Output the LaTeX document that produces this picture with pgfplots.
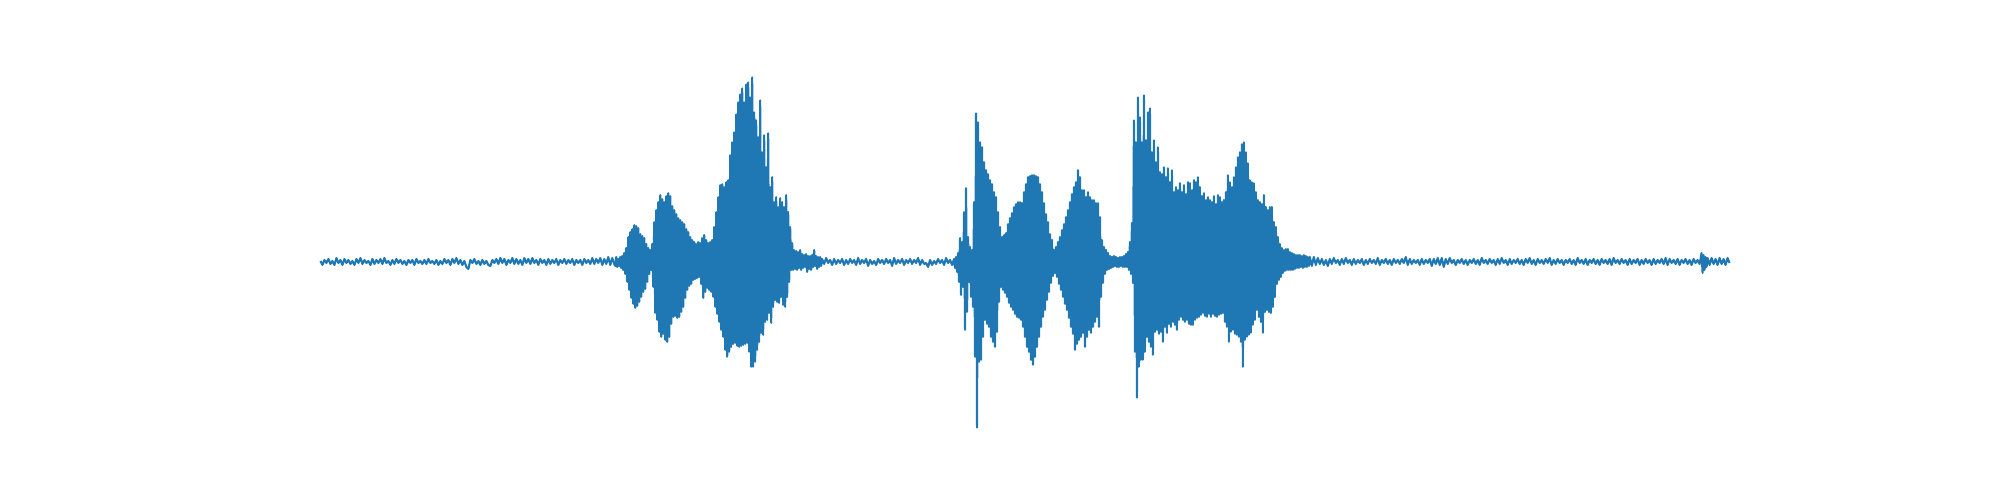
\documentclass[border=0pt]{standalone}
\usepackage{pgfplots}
\pgfplotsset{compat=1.18}
\definecolor{tabblue}{RGB}{31,119,180}
\begin{document}
\begin{tikzpicture}
\path[use as bounding box] (0,0) rectangle (1000pt,250pt);
\begin{axis}[at={(125pt,27.5pt)}, anchor=south west, scale only axis,
  width=775pt, height=192.5pt,
  xmin=249.5, xmax=1800.5, ymin=-183.5, ymax=202.5, hide axis]
\addplot[color=tabblue, line width=1.04pt, mark=none, line join=round] coordinates {
(320,1)(322,-3)(324,2)(326,-1)(328,3)(330,-2)(332,1)(334,-3)(336,4)(338,-1)(340,2)(342,-3)(344,3)(346,-1)(348,2)(350,-2)(352,1)(354,-3)(356,3)(358,-1)(360,4)(362,-2)(364,2)(366,-1)(368,1)(370,-3)(372,3)(374,-2)(376,2)(378,-1)(380,3)(382,-2)(384,4)(386,-1)(388,1)(390,-3)(392,2)(394,-2)(396,3)(398,-1)(400,2)(402,-2)(404,1)(406,-3)(408,2)(410,-1)(412,2)(414,-3)(416,3)(418,-1)(420,1)(422,-2)(424,2)(426,-2)(428,3)(430,-1)(432,1)(434,-2)(436,2)(438,-3)(440,1)(442,-2)(444,3)(446,-1)(448,2)(450,-3)(452,3)(454,-1)(456,4)(458,-2)(460,2)(462,-3)(464,1)(466,-5)(468,-7)(470,2)(472,-1)(474,3)(476,-2)(478,1)(480,-3)(482,2)(484,-2)(486,1)(488,-3)(490,-4)(492,2)(494,-1)(496,3)(498,-2)(500,4)(502,-1)(504,3)(506,-3)(508,2)(510,-1)(512,4)(514,-2)(516,3)(518,-2)(520,2)(522,-3)(524,4)(526,-1)(528,3)(530,-2)(532,4)(534,-1)(536,2)(538,-3)(540,3)(542,-1)(544,2)(546,-3)(548,3)(550,-2)(552,2)(554,-1)(556,3)(558,-3)(560,2)(562,-1)(564,3)(566,-2)(568,2)(570,-1)(572,3)(574,-3)(576,2)(578,-1)(580,2)(582,-3)(584,3)(586,-1)(588,2)(590,-2)(592,4)(594,-2)(596,3)(598,-1)(600,4)(602,-3)(604,3)(606,-2)(608,5)(610,-3)(612,4)(614,-2)
(615,-4)(616,5)(617,-5)(618,3)(619,-4)(620,5)(621,-6)(622,6)(623,-8)(624,9)(625,-12)(626,14)(627,-20)(628,25)(629,-28)(630,30)(631,-36)(632,33)(633,-42)(634,37)(635,-46)(636,36)(637,-44)(638,34)(639,-40)(640,28)(641,-35)(642,26)(643,-30)(644,24)(645,-27)(646,18)(647,-20)(648,14)(649,-12)(650,12)(651,-8)(652,18)(653,-25)(654,40)(655,-51)(656,52)(657,-58)(658,60)(659,-70)(660,67)(661,-75)(662,63)(663,-72)(664,60)(665,-78)(666,66)(667,-80)(668,69)(669,-75)(670,66)(671,-62)(672,56)(673,-55)(674,52)(675,-54)(676,48)(677,-56)(678,44)(679,-55)(680,42)(681,-50)(682,40)(683,-45)(684,38)(685,-36)(686,33)(687,-28)(688,30)(689,-24)(690,25)(691,-22)(692,22)(693,-18)(694,20)(695,-17)(696,18)(697,-16)(698,20)(699,-15)(700,19)(701,-22)(702,24)(703,-36)(704,27)(705,-30)(706,22)(707,-26)(708,19)(709,-28)(710,20)(711,-30)(712,22)(713,-35)(714,35)(715,-45)(716,50)(717,-52)(718,65)(719,-60)(720,77)(721,-68)(722,78)(723,-75)(724,75)(725,-88)(726,80)(727,-95)(728,82)(729,-90)(730,107)(731,-85)(732,120)(733,-82)(734,130)(735,-81)(736,148)(737,-84)(738,160)(739,-85)(740,168)(741,-84)(742,174)(743,-83)(744,160)(745,-82)(746,178)(747,-81)(748,180)(749,-90)(750,165)(751,-105)(752,185)(753,-105)(754,150)(755,-100)(756,142)(757,-88)(758,125)(759,-80)(760,162)(761,-71)(762,110)(763,-73)(764,127)(765,-60)(766,95)(767,-58)(768,129)(769,-51)(770,75)(771,-61)(772,85)(773,-45)(774,60)(775,-38)(776,65)(777,-40)(778,55)(779,-41)(780,64)(781,-35)(782,60)(783,-43)(784,55)(785,-45)(786,67)(787,-35)(788,50)(789,-20)(790,35)(791,-8)(792,19)(793,-8)(794,12)(795,-7)(796,11)(797,-8)(798,10)(799,-6)(800,12)(801,-8)(802,8)(803,-6)(804,7)(805,-5)(806,8)(807,-10)(808,6)(809,-7)(810,6)(811,-8)(812,7)(813,-5)(814,12)(815,-4)(816,6)(817,-7)(818,5)(819,-5)(820,5)(821,-4)
(822,3)(824,-2)(826,4)(828,-1)(830,2)(832,-3)(834,3)(836,-2)(838,2)(840,-1)(842,3)(844,-3)(846,2)(848,-2)(850,3)(852,-1)(854,2)(856,-3)(858,4)(860,-2)(862,2)(864,-1)(866,3)(868,-4)(870,2)(872,-2)(874,1)(876,-3)(878,3)(880,-1)(882,2)(884,-2)(886,3)(888,-1)(890,2)(892,-4)(894,4)(896,-2)(898,2)(900,-1)(902,3)(904,-3)(906,2)(908,-1)(910,3)(912,-2)(914,2)(916,-1)(918,4)(920,-3)(922,2)(924,-2)(926,-1)(928,-5)(930,2)(932,-3)(934,1)(936,-2)(938,3)(940,-1)(942,2)(944,-3)(946,4)(948,-1)(950,2)(952,-3)(954,3)
(955,-6)(956,5)(957,-10)(958,9)(959,-20)(960,24)(961,-33)(962,20)(963,-25)(964,50)(965,-68)(966,74)(967,-50)(968,25)(969,-20)(970,15)(971,-35)(972,12)(973,-45)(974,60)(975,-95)(976,149)(977,-166)(978,140)(979,-100)(980,120)(981,-98)(982,115)(983,-75)(984,100)(985,-58)(986,92)(987,-62)(988,88)(989,-65)(990,82)(991,-75)(992,78)(993,-80)(994,70)(995,-85)(996,65)(997,-70)(998,50)(999,-40)(1000,35)(1001,-25)(1002,25)(1003,-28)(1004,27)(1005,-31)(1006,29)(1007,-35)(1008,38)(1009,-41)(1010,44)(1011,-45)(1012,49)(1013,-48)(1014,55)(1015,-52)(1016,58)(1017,-55)(1018,60)(1019,-56)(1020,60)(1021,-58)(1022,59)(1023,-65)(1024,70)(1025,-75)(1026,78)(1027,-85)(1028,85)(1029,-90)(1030,86)(1031,-98)(1032,87)(1033,-103)(1034,87)(1035,-95)(1036,86)(1037,-85)(1038,85)(1039,-75)(1040,78)(1041,-65)(1042,70)(1043,-55)(1044,59)(1045,-48)(1046,48)(1047,-38)(1048,40)(1049,-30)(1050,28)(1051,-21)(1052,22)(1053,-14)(1054,12)(1055,-11)(1056,15)(1057,-15)(1058,20)(1059,-22)(1060,25)(1061,-28)(1062,32)(1063,-35)(1064,38)(1065,-42)(1066,45)(1067,-48)(1068,52)(1069,-56)(1070,60)(1071,-65)(1072,68)(1073,-72)(1074,75)(1075,-88)(1076,80)(1077,-82)(1078,92)(1079,-78)(1080,85)(1081,-75)(1082,72)(1083,-71)(1084,72)(1085,-85)(1086,65)(1087,-75)(1088,70)(1089,-68)(1090,65)(1091,-71)(1092,62)(1093,-65)(1094,62)(1095,-60)(1096,59)(1097,-55)(1098,59)(1099,-65)(1100,45)(1101,-35)(1102,22)(1103,-21)(1104,15)(1105,-12)(1106,12)(1107,-8)(1108,9)(1109,-7)(1110,6)(1111,-6)(1112,5)(1113,-5)(1114,6)(1115,-4)(1116,5)(1117,-5)(1118,4)(1119,-5)(1120,5)(1121,-4)(1122,5)(1123,-5)(1124,6)(1125,-5)(1126,8)(1127,-5)(1128,10)(1129,-8)(1130,20)(1131,-12)(1132,39)(1133,-21)(1134,142)(1135,-90)(1136,120)(1137,-136)(1138,165)(1139,-105)(1140,145)(1141,-98)(1142,120)(1143,-98)(1144,167)(1145,-90)(1146,122)(1147,-75)(1148,150)(1149,-80)(1150,154)(1151,-85)(1152,110)(1153,-93)(1154,122)(1155,-70)(1156,100)(1157,-68)(1158,115)(1159,-72)(1160,90)(1161,-70)(1162,88)(1163,-80)(1164,95)(1165,-65)(1166,85)(1167,-71)(1168,94)(1169,-62)(1170,80)(1171,-65)(1172,92)(1173,-60)(1174,70)(1175,-63)(1176,75)(1177,-68)(1178,72)(1179,-58)(1180,79)(1181,-55)(1182,70)(1183,-58)(1184,77)(1185,-60)(1186,68)(1187,-58)(1188,80)(1189,-62)(1190,79)(1191,-63)(1192,72)(1193,-63)(1194,82)(1195,-58)(1196,80)(1197,-56)(1198,85)(1199,-55)(1200,75)(1201,-53)(1202,66)(1203,-51)(1204,69)(1205,-54)(1206,62)(1207,-55)(1208,65)(1209,-52)(1210,62)(1211,-55)(1212,60)(1213,-52)(1214,66)(1215,-54)(1216,58)(1217,-55)(1218,67)(1219,-53)(1220,65)(1221,-52)(1222,60)(1223,-51)(1224,62)(1225,-60)(1226,70)(1227,-65)(1228,87)(1229,-80)(1230,80)(1231,-70)(1232,75)(1233,-68)(1234,85)(1235,-72)(1236,95)(1237,-73)(1238,105)(1239,-75)(1240,110)(1241,-80)(1242,118)(1243,-105)(1244,120)(1245,-78)(1246,110)(1247,-75)(1248,99)(1249,-73)(1250,82)(1251,-71)(1252,80)(1253,-63)(1254,79)(1255,-58)(1256,70)(1257,-48)(1258,62)(1259,-55)(1260,60)(1261,-60)(1262,58)(1263,-71)(1264,67)(1265,-50)(1266,55)(1267,-48)(1268,52)(1269,-50)(1270,55)(1271,-51)(1272,55)(1273,-45)(1274,40)(1275,-35)(1276,35)(1277,-22)(1278,25)(1279,-18)(1280,18)(1281,-15)(1282,14)(1283,-11)(1284,12)(1285,-9)(1286,13)(1287,-8)(1288,13)(1289,-8)(1290,10)(1291,-8)(1292,9)(1293,-8)(1294,8)(1295,-7)(1296,7)(1297,-6)(1298,7)(1299,-6)(1300,7)(1301,-5)(1302,6)(1303,-6)(1304,7)(1305,-5)(1306,6)(1307,-5)(1308,5)(1309,-4)(1310,5)
(1312,-4)(1314,5)(1316,-3)(1318,4)(1320,-2)(1322,3)(1324,-3)(1326,2)(1328,-4)(1330,3)(1332,-2)(1334,4)(1336,-1)(1338,2)(1340,-3)(1342,3)(1344,-2)(1346,4)(1348,-1)(1350,2)(1352,-3)(1354,3)(1356,-2)(1358,2)(1360,-1)(1362,3)(1364,-3)(1366,2)(1368,-2)(1370,3)(1372,-1)(1374,2)(1376,-2)(1378,4)(1380,-3)(1382,2)(1384,-1)(1386,3)(1388,-2)(1390,2)(1392,-3)(1394,3)(1396,-1)(1398,2)(1400,-2)(1402,3)(1404,-1)(1406,5)(1408,-3)(1410,3)(1412,-2)(1414,2)(1416,-1)(1418,2)(1420,-3)(1422,3)(1424,-2)(1426,2)(1428,-1)(1430,3)(1432,-4)(1434,3)(1436,-2)(1438,4)(1440,-3)(1442,4)(1444,-5)(1446,3)(1448,-2)(1450,4)(1452,-1)(1454,2)(1456,-3)(1458,2)(1460,-1)(1462,3)(1464,-2)(1466,2)(1468,-3)(1470,2)(1472,-1)(1474,3)(1476,-2)(1478,2)(1480,-3)(1482,4)(1484,-1)(1486,2)(1488,-2)(1490,3)(1492,-1)(1494,2)(1496,-3)(1498,3)(1500,-2)(1502,4)(1504,-1)(1506,2)(1508,-3)(1510,3)(1512,-2)(1514,2)(1516,-1)(1518,3)(1520,-2)(1522,2)(1524,-3)(1526,3)(1528,-1)(1530,4)(1532,-2)(1534,2)(1536,-3)(1538,3)(1540,-1)(1542,2)(1544,-2)(1546,3)(1548,-1)(1550,4)(1552,-3)(1554,2)(1556,-2)(1558,3)(1560,-1)(1562,2)(1564,-3)(1566,2)(1568,-1)(1570,3)(1572,-2)(1574,2)(1576,-3)(1578,4)(1580,-1)(1582,2)(1584,-2)(1586,3)(1588,-3)(1590,2)(1592,-1)(1594,3)(1596,-2)(1598,2)(1600,-3)(1602,3)(1604,-1)(1606,2)(1608,-2)(1610,3)(1612,-3)(1614,4)(1616,-1)(1618,2)(1620,-2)(1622,3)(1624,-1)(1626,2)(1628,-3)(1630,3)(1632,-2)(1634,2)(1636,-1)(1638,3)(1640,-3)(1642,2)(1644,-2)(1646,3)(1648,-1)(1650,2)(1652,-3)(1654,3)(1656,-2)(1658,2)(1660,-1)(1662,3)(1664,-2)(1666,4)(1668,-3)(1670,3)(1672,-1)(1674,2)(1676,-2)(1678,3)(1680,-3)(1682,2)(1684,-1)(1686,3)(1688,-2)(1690,2)(1692,-3)(1694,3)(1696,-1)(1698,2)(1700,-2)(1701,3)(1702,9)(1703,-11)(1704,7)(1705,-8)(1706,5)(1707,-5)(1708,4)(1710,-3)(1712,4)(1714,-2)(1716,3)(1718,-3)(1720,4)(1722,-2)(1724,3)(1726,-3)(1728,4)(1730,-1)
};
\end{axis}
\end{tikzpicture}
\end{document}
